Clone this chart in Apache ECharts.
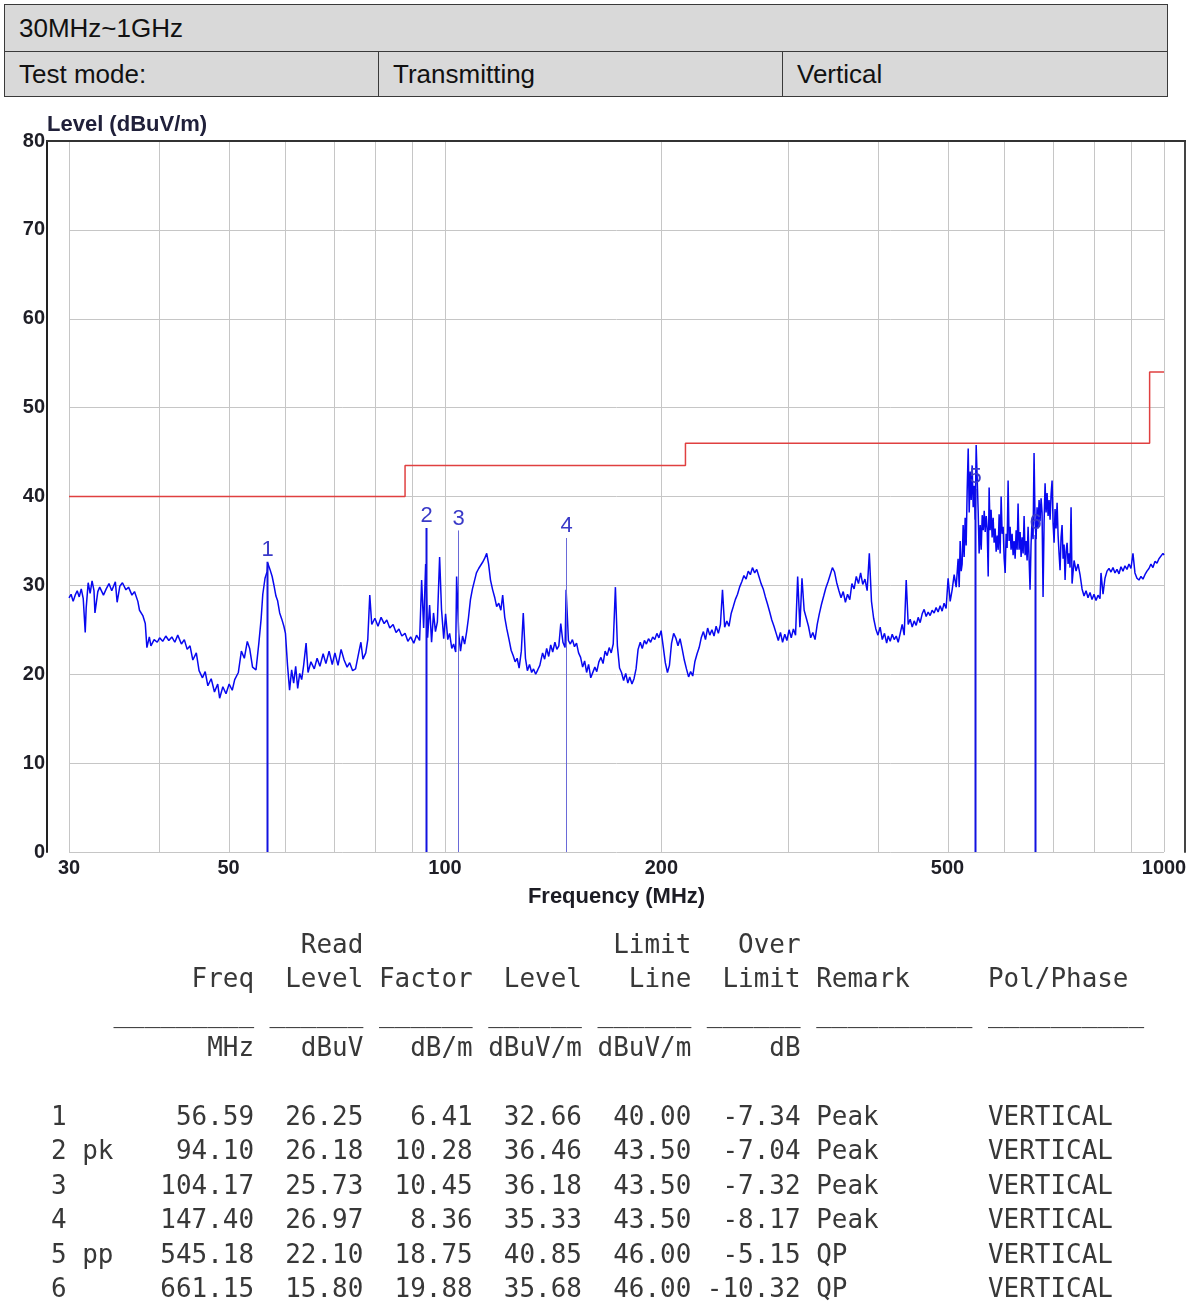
<!DOCTYPE html>
<html>
<head>
<meta charset="utf-8">
<script src="https://cdn.jsdelivr.net/npm/echarts@6/dist/echarts.min.js"></script>
<style>
html,body{margin:0;padding:0;background:#fff;width:1192px;height:1303px;overflow:hidden;}
#chart{position:absolute;left:0;top:0;width:1192px;height:1303px;}
.cell{position:absolute;box-sizing:border-box;border:1px solid #3a3a3a;background:#d9d9d9;
  font-family:'Liberation Sans',Arial,sans-serif;font-size:26px;color:#111;padding-left:14px;display:flex;align-items:center;}
#tbl{position:absolute;left:51px;top:927px;margin:0;font-family:'DejaVu Sans Mono',monospace;font-size:25.95px;line-height:34.4px;color:#383838;white-space:pre;}
</style>
</head>
<body>
<div id="chart"></div>
<div id="hdr"></div>
<pre id="tbl"></pre>
<script>
// ---------- header ----------
const HEADER_TITLE = "30MHz~1GHz";
const HEADER_ROW = ["Test mode:", "Transmitting", "Vertical"];

// ---------- axes ----------
const GRID_FREQS = [30, 40, 50, 60, 70, 80, 90, 100, 200, 300, 400, 500, 600, 700, 800, 900, 1000];
const TICK_FREQS = [30, 50, 100, 200, 500, 1000];

// ---------- limit line ----------
const LIMIT_FREQ  = [30, 88, 88, 216, 216, 955, 955, 1000];
const LIMIT_LEVEL = [40, 40, 43.5, 43.5, 46, 46, 54, 54];

// ---------- measured trace ----------
const TRACE_FREQ = [
30.0,30.2,30.4,30.6,30.8,31.0,31.2,31.4,31.6,31.7,31.9,32.1,32.3,32.5,32.6,32.9,33.1,33.5,33.8,34.1,
34.4,34.8,35.0,35.3,35.6,36.0,36.3,36.7,37.0,37.4,37.6,38.0,38.3,38.5,38.8,39.0,39.4,39.8,40.1,40.5,
40.9,41.3,41.7,42.1,42.5,43.0,43.4,43.8,44.2,44.6,45.1,45.5,46.0,46.4,46.8,47.3,47.8,48.3,48.6,49.1,
49.6,50.1,50.6,51.0,51.6,52.1,52.6,53.1,53.5,54.0,54.6,55.1,55.5,55.8,56.2,56.6,56.7,57.1,57.5,57.8,
58.2,58.5,58.9,59.3,59.7,60.0,60.4,60.8,61.2,61.6,62.0,62.4,62.8,63.2,63.6,64.1,64.5,65.1,65.8,66.4,
67.0,67.7,68.3,69.0,69.7,70.3,71.0,71.7,72.4,73.1,73.7,74.4,75.1,75.9,76.4,76.9,77.6,78.1,78.6,79.1,
79.9,80.7,81.5,82.3,83.0,83.8,84.7,85.5,86.3,87.1,88.0,88.8,89.6,90.5,91.3,92.2,92.8,93.4,94.0,94.6,
95.2,95.8,96.4,97.0,97.6,98.3,98.9,99.6,100.2,100.9,101.5,102.2,102.8,103.5,103.8,104.5,105.1,105.8,106.5,107.2,
107.8,108.5,109.2,109.9,110.6,111.4,112.1,112.8,113.5,114.3,115.0,115.7,116.5,117.3,118.0,118.8,119.6,120.3,121.1,121.9,
122.7,123.6,124.4,125.2,126.0,126.8,127.7,128.5,129.4,130.2,131.1,132.0,132.8,133.7,134.6,135.5,136.7,137.6,138.5,139.4,
140.3,141.2,142.2,143.1,144.0,144.9,145.9,146.9,147.4,148.5,149.4,150.4,151.4,152.4,153.4,154.4,155.4,156.4,157.4,158.4,
159.5,160.5,161.6,162.6,163.7,164.8,165.9,167.0,168.1,169.2,170.3,171.4,172.6,173.7,174.9,176.0,177.2,178.4,179.6,180.7,
182.0,183.2,184.4,185.6,186.9,188.1,189.4,190.6,191.9,193.2,194.5,195.8,197.1,198.4,199.8,201.1,202.5,203.9,205.2,206.6,
208.0,209.4,210.9,212.3,213.8,215.2,216.7,218.2,219.6,221.1,222.6,224.2,225.7,227.2,228.8,230.3,231.9,233.5,235.1,236.7,
238.3,240.0,241.6,243.2,244.9,246.6,248.3,250.0,251.7,253.4,255.2,256.9,258.7,260.5,262.3,264.1,265.9,267.7,269.6,271.4,
273.3,275.2,277.1,279.0,280.9,282.9,284.8,286.8,288.8,290.8,292.8,294.8,296.9,298.9,301.0,303.1,305.2,307.3,309.4,311.6,
313.7,315.9,318.1,320.3,322.6,324.8,327.1,329.4,331.6,334.0,336.3,338.6,341.0,343.4,345.8,348.2,350.6,353.1,355.5,358.0,
360.5,363.0,365.6,368.1,370.7,373.3,375.9,378.5,381.1,383.8,386.5,389.2,391.9,394.6,397.4,400.1,402.9,405.7,408.6,411.4,
413.5,416.1,418.8,421.5,424.2,426.9,429.7,432.4,435.2,438.0,440.8,443.6,446.5,449.3,452.2,455.1,458.0,461.0,463.9,466.9,
469.9,472.9,475.9,479.0,482.0,485.1,488.3,491.4,494.5,497.7,500.9,504.2,507.4,510.7,514.0,
517.2,519.0,520.6,522.3,523.9,525.6,527.3,529.0,530.7,532.4,534.2,535.9,537.6,539.3,541.0,542.8,544.5,546.3,548.0,549.8,
551.5,553.2,555.1,556.9,558.7,560.5,562.3,564.1,565.9,567.7,569.5,571.2,573.0,574.8,576.7,578.6,580.4,582.3,584.2,586.1,
588.0,589.8,591.7,593.6,595.5,597.4,599.4,601.3,603.2,605.1,607.0,608.9,610.9,612.8,614.8,616.8,618.8,620.8,622.8,624.8,
626.7,628.7,630.8,632.8,634.8,636.9,638.9,641.0,643.0,645.1,647.1,649.2,651.2,653.3,655.4,657.5,659.6,661.8,663.9,666.0,
668.1,670.3,672.4,674.6,676.7,678.9,681.1,683.3,685.5,687.7,689.9,692.1,694.3,696.6,698.8,701.0,703.3,705.5,707.8,710.1,
712.4,714.6,716.9,719.2,721.5,723.9,726.2,728.5,730.8,733.2,735.5,737.8,740.2,742.6,745.0,
749.8,754.6,759.4,
764.2,769.2,774.1,779.1,784.0,789.1,794.1,799.2,804.4,809.5,814.7,817.3,822.6,827.8,833.2,838.5,843.9,849.3,854.7,860.2,
865.8,871.3,876.9,882.5,888.2,893.9,899.6,905.4,911.2,917.0,923.0,928.9,934.8,940.8,946.9,953.0,959.1,965.2,971.4,977.7,
984.0,990.3,996.7,1000
];
const TRACE_LEVEL = [
28.6,29.0,28.2,28.9,29.4,28.7,29.6,28.5,24.7,27.5,30.3,29.1,30.5,29.4,26.9,29.3,29.8,28.9,29.6,30.2,
29.4,30.4,28.1,29.9,30.3,29.5,29.8,28.9,29.3,28.2,27.2,26.6,25.7,23.0,24.2,23.2,23.9,23.6,24.1,23.7,
24.3,23.8,24.2,23.6,24.4,23.4,23.9,22.8,23.2,21.6,22.4,20.4,19.6,20.3,18.7,19.5,18.0,18.9,17.3,18.6,
17.8,18.9,18.2,19.4,20.2,22.6,21.8,23.7,22.9,20.8,20.5,23.5,26.2,29.0,30.8,31.6,32.5,31.8,31.0,30.1,
28.8,28.3,26.9,26.2,25.4,24.6,21.0,18.2,20.5,19.0,20.9,18.4,20.1,19.4,21.0,23.5,20.2,21.4,20.6,21.8,
20.9,22.3,21.2,22.6,21.1,22.4,21.0,22.8,21.6,20.8,21.3,20.4,20.6,22.5,23.6,21.7,22.4,23.9,28.9,25.6,
26.3,25.4,26.4,25.7,26.1,25.2,25.6,24.7,25.1,24.3,24.6,23.7,24.2,23.5,24.4,23.8,30.6,25.2,32.4,24.1,
27.8,23.6,26.9,24.8,25.9,33.2,27.3,24.0,26.8,23.9,24.6,22.9,23.4,22.5,31.0,24.6,22.6,24.3,23.4,24.8,
26.3,28.4,29.6,30.5,31.4,31.9,32.1,32.6,33.0,33.6,32.4,30.6,29.5,28.6,27.6,28.0,27.2,28.9,26.4,25.1,
24.0,22.7,22.1,21.4,21.8,20.7,22.6,26.9,21.8,20.4,21.1,20.2,20.6,20.0,20.5,21.0,22.4,21.7,22.9,22.0,
23.3,22.5,23.6,22.8,23.2,25.7,23.6,23.0,29.5,23.8,23.4,23.9,23.1,23.5,22.4,21.9,20.8,21.5,20.2,21.1,
19.6,19.4,20.8,20.3,21.4,21.9,21.2,22.6,22.1,23.0,22.4,23.4,29.8,23.2,20.7,20.2,19.3,20.1,19.0,19.7,
18.9,19.5,20.6,22.8,23.6,22.9,23.8,23.4,24.0,23.6,24.2,23.9,24.6,24.1,24.9,23.2,21.3,20.2,21.0,23.5,
24.6,24.1,23.2,24.0,22.8,21.6,20.6,19.7,20.3,19.8,21.4,22.3,23.0,24.1,24.8,23.9,25.2,24.4,25.0,24.3,
25.4,24.6,25.6,29.5,25.3,26.0,25.4,26.8,27.6,28.4,29.0,29.8,30.4,31.1,30.7,31.6,31.2,32.0,31.4,31.8,
31.0,30.2,29.6,28.7,27.9,27.0,26.1,25.4,24.6,23.8,24.7,23.6,24.5,23.8,25.0,24.1,25.1,24.4,31.0,25.3,
30.8,27.2,26.3,25.4,24.1,24.7,23.9,25.6,26.8,27.9,28.8,29.7,30.4,31.2,32.0,31.5,30.3,29.4,28.6,29.3,
28.1,29.0,28.4,30.2,29.6,31.0,30.2,31.4,30.1,30.7,29.4,33.6,28.2,26.3,25.1,24.4,25.3,23.9,24.6,23.5,
24.3,23.7,24.5,23.9,24.3,23.6,24.6,25.6,24.4,30.6,25.6,26.2,25.3,26.0,25.5,26.4,25.8,26.8,27.3,26.5,
27.0,26.6,27.2,26.9,27.5,27.0,27.7,27.1,28.0,27.4,30.8,28.2,29.5,31.2,29.8,
33.0,29.8,35.0,31.6,32.4,36.8,33.2,37.6,34.5,40.6,45.4,38.2,42.8,39.6,43.5,38.8,41.2,37.4,45.8,42.0,
38.4,33.6,36.8,34.0,37.9,36.2,38.4,36.0,37.8,36.4,31.0,41.0,36.2,38.5,35.4,37.6,34.8,36.4,33.8,35.6,
34.0,38.0,33.6,40.0,35.8,36.6,33.0,31.4,35.8,34.2,41.8,35.0,36.6,34.0,35.8,33.4,35.0,33.0,36.2,34.0,
39.2,34.0,36.0,33.2,35.4,33.6,37.8,33.4,35.0,32.8,36.6,33.0,29.5,34.6,37.5,35.2,44.9,37.0,35.2,38.8,
36.4,39.6,37.2,39.8,38.2,28.7,37.0,41.5,38.2,40.4,37.8,39.6,37.4,40.3,41.8,37.0,34.8,38.6,36.4,39.3,
35.6,33.6,31.7,35.4,36.8,33.0,34.6,30.6,33.8,34.8,32.4,33.6,32.0,38.8,30.2,
32.8,31.6,32.4,
31.2,29.6,28.8,29.4,28.6,29.2,28.4,29.0,28.3,28.9,28.5,31.4,29.0,30.8,31.6,31.9,31.5,32.0,31.4,31.8,
31.3,32.1,31.6,32.2,31.8,32.4,31.9,33.6,31.4,30.8,30.6,31.0,30.7,31.2,31.6,31.9,32.4,32.0,32.7,32.5,
33.0,33.2,33.6,33.4
];

// ---------- markers / result table ----------
const MARKER_NO     = ["1", "2 pk", "3", "4", "5 pp", "6"];
const MARKER_FREQ   = [56.59, 94.10, 104.17, 147.40, 545.18, 661.15];
const READ_LEVEL    = [26.25, 26.18, 25.73, 26.97, 22.10, 15.80];
const FACTOR        = [6.41, 10.28, 10.45, 8.36, 18.75, 19.88];
const MARKER_LEVEL  = [32.66, 36.46, 36.18, 35.33, 40.85, 35.68];
const LIMIT_AT      = [40.00, 43.50, 43.50, 43.50, 46.00, 46.00];
const OVER_LIMIT    = [-7.34, -7.04, -7.32, -8.17, -5.15, -10.32];
const REMARK        = ["Peak", "Peak", "Peak", "Peak", "QP", "QP"];
const POLARITY      = ["VERTICAL", "VERTICAL", "VERTICAL", "VERTICAL", "VERTICAL", "VERTICAL"];

// styles kept separately
const MARKER_LINE_WIDTH = [2, 2, 1, 1, 2, 2];
const MARKER_LINE_COLOR = ['#1212e0', '#1212e0', '#6a6ad8', '#6a6ad8', '#1212e0', '#1212e0'];

// ---------- header HTML ----------
(function(){
  const h = document.getElementById('hdr');
  const mk = (l,t,w,ht,txt)=>{const d=document.createElement('div');d.className='cell';
    d.style.left=l+'px';d.style.top=t+'px';d.style.width=w+'px';d.style.height=ht+'px';d.textContent=txt;h.appendChild(d);};
  mk(4,4,1164,48,HEADER_TITLE);
  mk(4,51,375,46,HEADER_ROW[0]);
  mk(378,51,405,46,HEADER_ROW[1]);
  mk(782,51,386,46,HEADER_ROW[2]);
})();

// ---------- text table ----------
(function(){
  const p7 = s => String(s).padStart(7);
  const f2 = v => v.toFixed(2);
  const lines = [];
  lines.push(' '.repeat(16) + 'Read' + ' '.repeat(16) + 'Limit' + '   Over');
  lines.push('Freq'.padStart(13) + p7('Level') + p7('Factor') + p7('Level') + p7('Line') + p7('Limit') + ' ' + 'Remark'.padEnd(10) + ' ' + 'Pol/Phase');
  lines.push('    ' + '_'.repeat(9) + (' ' + '_'.repeat(6)).repeat(5) + ' ' + '_'.repeat(10) + ' ' + '_'.repeat(10));
  lines.push('MHz'.padStart(13) + p7('dBuV') + p7('dB/m') + p7('dBuV/m') + p7('dBuV/m') + p7('dB'));
  lines.push('');
  for (let i = 0; i < MARKER_NO.length; i++) {
    lines.push(MARKER_NO[i].padEnd(6) + p7(f2(MARKER_FREQ[i])) + p7(f2(READ_LEVEL[i])) + p7(f2(FACTOR[i])) +
      p7(f2(MARKER_LEVEL[i])) + p7(f2(LIMIT_AT[i])) + p7(f2(OVER_LIMIT[i])) + ' ' + REMARK[i].padEnd(10) + ' ' + POLARITY[i]);
  }
  document.getElementById('tbl').textContent = lines.join('\n');
})();

// ---------- chart ----------
const FONT = "'Liberation Sans', Arial, sans-serif";
const chart = echarts.init(document.getElementById('chart'), null, {renderer: 'canvas'});

const option = {
  animation: false,
  backgroundColor: '#ffffff',
  grid: {left: 69, right: 28, top: 141, bottom: 451},
  xAxis: {
    type: 'log', logBase: 10, min: 30, max: 1000,
    axisLine: {show: false, onZero: false}, axisTick: {show: false}, axisLabel: {show: false}, splitLine: {show: false},
    name: 'Frequency (MHz)', nameLocation: 'middle', nameGap: 34, nameMoveOverlap: false,
    nameTextStyle: {fontFamily: FONT, fontWeight: 'bold', fontSize: 22, color: '#1c1c24'}
  },
  yAxis: [{
    type: 'value', min: 0, max: 80, interval: 10, offset: 22,
    axisLine: {show: true, onZero: false, lineStyle: {color: '#222', width: 2}},
    axisTick: {show: false},
    axisLabel: {margin: 2, fontFamily: FONT, fontWeight: 'bold', fontSize: 20, color: '#1e1e26'},
    splitLine: {show: true, lineStyle: {color: '#c6c6c6', width: 1}},
    name: 'Level (dBuV/m)', nameLocation: 'end', nameGap: 5, nameMoveOverlap: false,
    nameTextStyle: {fontFamily: FONT, fontWeight: 'bold', fontSize: 22, color: '#20203a', align: 'left', verticalAlign: 'bottom'}
  }, {
    type: 'value', position: 'right', min: 0, max: 80, interval: 10, offset: 21,
    axisLine: {show: true, onZero: false, lineStyle: {color: '#444', width: 2}},
    axisTick: {show: false}, axisLabel: {show: false}, splitLine: {show: false}
  }],
  graphic: [{type: 'line', shape: {x1: 46, y1: 141, x2: 1186, y2: 141}, style: {stroke: '#333', lineWidth: 2}, z: 100}],
  series: [
    {
      type: 'custom', silent: true, z: 1,
      data: GRID_FREQS.map(f => [f, 0]),
      renderItem: (params, api) => {
        const a = api.coord([api.value(0), 0]);
        const b = api.coord([api.value(0), 80]);
        const x = Math.round(a[0]) + 0.5;
        return {type: 'line', shape: {x1: x, y1: a[1], x2: x, y2: b[1]}, style: {stroke: '#c6c6c6', lineWidth: 1}};
      }
    },
    {
      type: 'custom', silent: true, z: 5,
      data: TICK_FREQS.map(f => [f, 0]),
      renderItem: (params, api) => {
        const a = api.coord([api.value(0), 0]);
        return {type: 'text', x: a[0], y: a[1] + 6,
          style: {text: String(api.value(0)), fontFamily: FONT, fontWeight: 'bold', fontSize: 20,
            fill: '#1e1e26', align: 'center', verticalAlign: 'top'}};
      }
    },
    {
      type: 'line', silent: true, z: 2, showSymbol: false, symbol: 'none',
      data: LIMIT_FREQ.map((f, i) => [f, LIMIT_LEVEL[i]]),
      lineStyle: {color: '#e04040', width: 1.5}
    },
    {
      type: 'line', silent: true, z: 3, showSymbol: false, symbol: 'none',
      data: TRACE_FREQ.map((f, i) => [f, TRACE_LEVEL[i]]),
      lineStyle: {color: '#0808f0', width: 1.5}
    },
    {
      type: 'custom', silent: true, z: 4,
      data: MARKER_FREQ.map((f, i) => [f, MARKER_LEVEL[i], i]),
      renderItem: (params, api) => {
        const i = api.value(2);
        const a = api.coord([api.value(0), 0]);
        const b = api.coord([api.value(0), api.value(1)]);
        const x = Math.round(a[0]) + 0.5;
        return {type: 'group', children: [
          {type: 'line', shape: {x1: x, y1: a[1], x2: x, y2: b[1]},
            style: {stroke: MARKER_LINE_COLOR[i], lineWidth: MARKER_LINE_WIDTH[i]}},
          {type: 'text', x: x, y: b[1] - 1,
            style: {text: String(i + 1), fontFamily: FONT, fontSize: 22, fill: '#3a3ac8', align: 'center', verticalAlign: 'bottom'}}
        ]};
      }
    }
  ]
};
chart.setOption(option);
</script>
</body>
</html>
